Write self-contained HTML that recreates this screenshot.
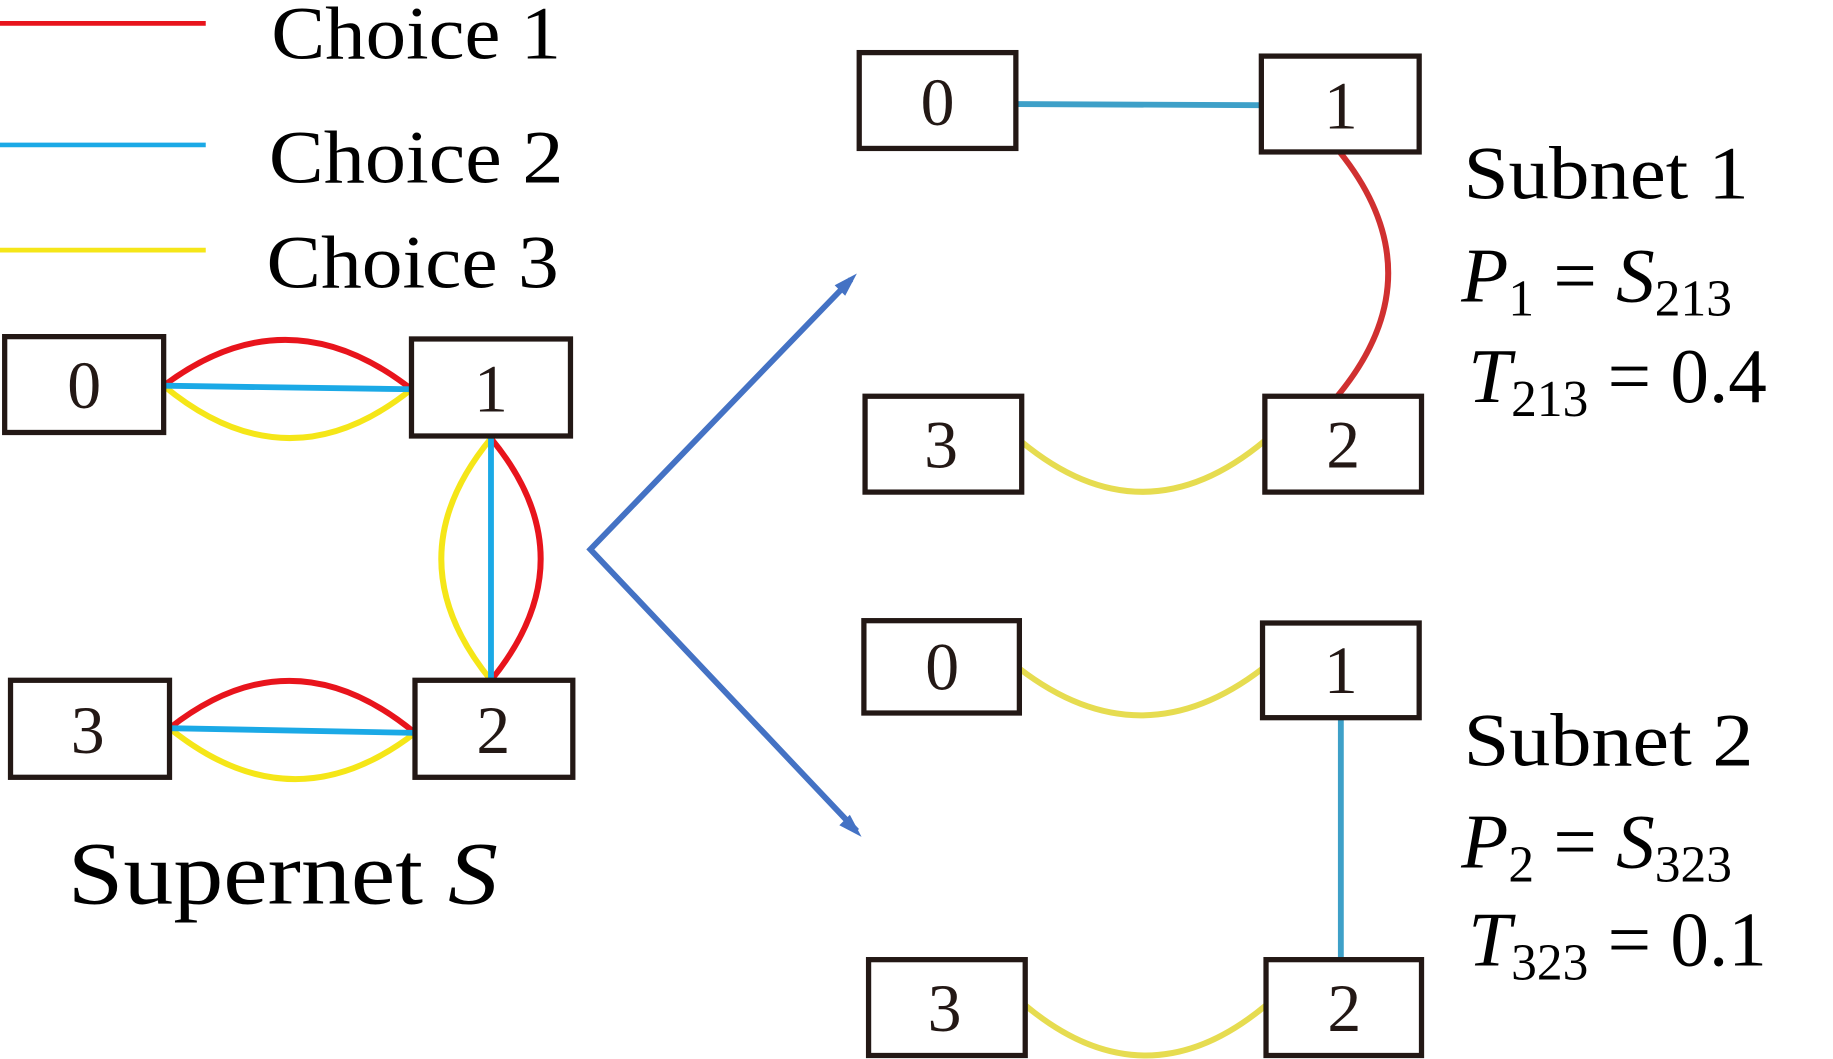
<!DOCTYPE html>
<html><head><style>html,body{margin:0;padding:0;background:#fff;}svg{display:block}</style></head>
<body>
<svg width="1833" height="1059" viewBox="0 0 1568 906" preserveAspectRatio="none" xmlns="http://www.w3.org/2000/svg">
<g font-family="Liberation Serif, serif" fill="#000">
<line x1="0" y1="20" x2="176" y2="20" stroke="#e8141c" stroke-width="4"/>
<line x1="0" y1="124" x2="176" y2="124" stroke="#1ba9e6" stroke-width="4"/>
<line x1="0" y1="214" x2="176" y2="214" stroke="#f5e618" stroke-width="4"/>
<text x="232" y="50" font-size="64" textLength="248" lengthAdjust="spacingAndGlyphs">Choice 1</text>
<text x="230" y="156" font-size="64" textLength="252" lengthAdjust="spacingAndGlyphs">Choice 2</text>
<text x="228" y="246" font-size="64" textLength="250" lengthAdjust="spacingAndGlyphs">Choice 3</text>
<g fill="none" stroke-width="5">
<path d="M140,330 Q246,250 352,333" stroke="#e8141c"/>
<path d="M140,330 Q246,418 352,333" stroke="#f5e618"/>
<line x1="140" y1="330" x2="352" y2="333" stroke="#1ba9e6"/>
<path d="M420,375 Q505,478 420,582" stroke="#e8141c"/>
<path d="M420,375 Q335,478 420,582" stroke="#f5e618"/>
<line x1="420" y1="375" x2="420" y2="582" stroke="#1ba9e6"/>
<path d="M145,623 Q250,540 355,627" stroke="#e8141c"/>
<path d="M145,623 Q250,708 355,627" stroke="#f5e618"/>
<line x1="145" y1="623" x2="355" y2="627" stroke="#1ba9e6"/>
<line x1="869" y1="89" x2="1078" y2="90" stroke="#3ea0c8"/>
<path d="M1146,130 Q1230,235 1144,339" stroke="#d03030"/>
<path d="M874,378 Q978,464 1082,377" stroke="#e6dc50"/>
<path d="M872,572 Q976,652 1080,572" stroke="#e6dc50"/>
<line x1="1147" y1="614" x2="1147" y2="821" stroke="#3ea0c8"/>
<path d="M877,860 Q980,946 1083,860" stroke="#e6dc50"/>
<polyline points="728,239 505,470 733,711" stroke="#4472c4"/>
</g>
<path d="M733,234 L714,244 L723,253 Z" fill="#4472c4"/>
<path d="M737,716 L718,706 L727,697 Z" fill="#4472c4"/>
<g fill="#fff" stroke="#231815" stroke-width="4.5">
<rect x="4" y="288" width="136" height="82"/>
<rect x="352" y="290" width="136" height="83"/>
<rect x="9" y="582" width="136" height="83"/>
<rect x="355" y="582" width="135" height="83"/>
<rect x="735" y="45" width="134" height="82"/>
<rect x="1079" y="48" width="135" height="82"/>
<rect x="740" y="339" width="134" height="82"/>
<rect x="1082" y="339" width="134" height="82"/>
<rect x="739" y="531" width="133" height="79"/>
<rect x="1080" y="533" width="134" height="81"/>
<rect x="743" y="821" width="134" height="82"/>
<rect x="1083" y="821" width="133" height="82"/>
</g>
<g font-size="58" text-anchor="middle" fill="#231815">
<text x="72" y="349">0</text><text x="420" y="352">1</text>
<text x="75" y="644">3</text><text x="422" y="644">2</text>
<text x="802" y="107">0</text><text x="1147" y="110">1</text>
<text x="805" y="400">3</text><text x="1149" y="400">2</text>
<text x="806" y="590">0</text><text x="1147" y="593">1</text>
<text x="808" y="882">3</text><text x="1150" y="882">2</text>
</g>
<text x="58" y="773" font-size="76" textLength="368" lengthAdjust="spacingAndGlyphs">Supernet <tspan font-style="italic">S</tspan></text>
<text x="1252" y="170" font-size="64" textLength="244" lengthAdjust="spacingAndGlyphs">Subnet 1</text>
<text x="1250" y="258" font-size="66" font-style="italic">P<tspan font-size="44" dy="12" font-style="normal">1</tspan><tspan dy="-12" font-style="normal"> = </tspan>S<tspan font-size="44" dy="12" font-style="normal">213</tspan></text>
<text x="1256" y="344" font-size="66"><tspan font-style="italic">T</tspan><tspan font-size="44" dy="12">213</tspan><tspan dy="-12"> = 0.4</tspan></text>
<text x="1252" y="655" font-size="64" textLength="248" lengthAdjust="spacingAndGlyphs">Subnet 2</text>
<text x="1250" y="742" font-size="66" font-style="italic">P<tspan font-size="44" dy="12" font-style="normal">2</tspan><tspan dy="-12" font-style="normal"> = </tspan>S<tspan font-size="44" dy="12" font-style="normal">323</tspan></text>
<text x="1256" y="826" font-size="66"><tspan font-style="italic">T</tspan><tspan font-size="44" dy="12">323</tspan><tspan dy="-12"> = 0.1</tspan></text>
</g>
</svg>
</body></html>
